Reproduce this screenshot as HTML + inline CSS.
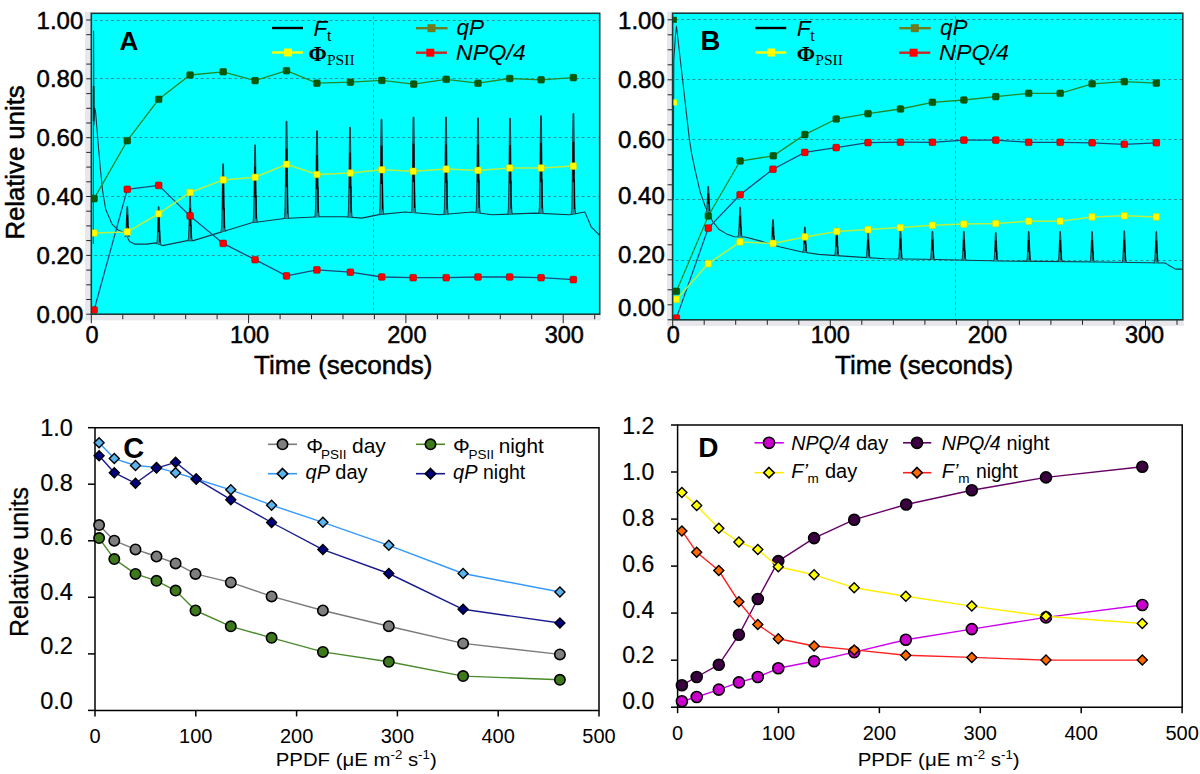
<!DOCTYPE html><html><head><meta charset="utf-8"><style>html,body{margin:0;padding:0;background:#fff;width:1200px;height:774px;overflow:hidden}svg{display:block}</style></head><body>
<svg width="1200" height="774" viewBox="0 0 1200 774">
<rect width="1200" height="774" fill="#fff"/>
<rect x="85" y="11.8" width="6.299999999999997" height="308.5" fill="#e8e8ec"/>
<rect x="85" y="314.2" width="515.7" height="6.100000000000023" fill="#e8e8ec"/>
<rect x="91.3" y="13.3" width="508.40000000000003" height="300.9" fill="#00ffff"/>
<line x1="94.3" y1="20.5" x2="599.7" y2="20.5" stroke="#2a9898" stroke-width="1" stroke-dasharray="3,2.6"/>
<line x1="94.3" y1="78.5" x2="599.7" y2="78.5" stroke="#2a9898" stroke-width="1" stroke-dasharray="3,2.6"/>
<line x1="94.3" y1="137.5" x2="599.7" y2="137.5" stroke="#2a9898" stroke-width="1" stroke-dasharray="3,2.6"/>
<line x1="94.3" y1="196.5" x2="599.7" y2="196.5" stroke="#2a9898" stroke-width="1" stroke-dasharray="3,2.6"/>
<line x1="94.3" y1="255.5" x2="599.7" y2="255.5" stroke="#2a9898" stroke-width="1" stroke-dasharray="3,2.6"/>
<line x1="373.5" y1="16.3" x2="373.5" y2="314.2" stroke="#2a9898" stroke-width="1" stroke-dasharray="3,2.6"/>
<line x1="86.3" y1="314.2" x2="91.3" y2="314.2" stroke="#222" stroke-width="1"/>
<line x1="86.3" y1="299.5" x2="91.3" y2="299.5" stroke="#222" stroke-width="1"/>
<line x1="86.3" y1="284.8" x2="91.3" y2="284.8" stroke="#222" stroke-width="1"/>
<line x1="86.3" y1="270.1" x2="91.3" y2="270.1" stroke="#222" stroke-width="1"/>
<line x1="86.3" y1="255.4" x2="91.3" y2="255.4" stroke="#222" stroke-width="1"/>
<line x1="86.3" y1="240.6" x2="91.3" y2="240.6" stroke="#222" stroke-width="1"/>
<line x1="86.3" y1="225.9" x2="91.3" y2="225.9" stroke="#222" stroke-width="1"/>
<line x1="86.3" y1="211.2" x2="91.3" y2="211.2" stroke="#222" stroke-width="1"/>
<line x1="86.3" y1="196.5" x2="91.3" y2="196.5" stroke="#222" stroke-width="1"/>
<line x1="86.3" y1="181.8" x2="91.3" y2="181.8" stroke="#222" stroke-width="1"/>
<line x1="86.3" y1="167.1" x2="91.3" y2="167.1" stroke="#222" stroke-width="1"/>
<line x1="86.3" y1="152.4" x2="91.3" y2="152.4" stroke="#222" stroke-width="1"/>
<line x1="86.3" y1="137.7" x2="91.3" y2="137.7" stroke="#222" stroke-width="1"/>
<line x1="86.3" y1="123.0" x2="91.3" y2="123.0" stroke="#222" stroke-width="1"/>
<line x1="86.3" y1="108.3" x2="91.3" y2="108.3" stroke="#222" stroke-width="1"/>
<line x1="86.3" y1="93.6" x2="91.3" y2="93.6" stroke="#222" stroke-width="1"/>
<line x1="86.3" y1="78.8" x2="91.3" y2="78.8" stroke="#222" stroke-width="1"/>
<line x1="86.3" y1="64.1" x2="91.3" y2="64.1" stroke="#222" stroke-width="1"/>
<line x1="86.3" y1="49.4" x2="91.3" y2="49.4" stroke="#222" stroke-width="1"/>
<line x1="86.3" y1="34.7" x2="91.3" y2="34.7" stroke="#222" stroke-width="1"/>
<line x1="86.3" y1="20.0" x2="91.3" y2="20.0" stroke="#222" stroke-width="1"/>
<line x1="91.3" y1="314.2" x2="91.3" y2="323.2" stroke="#222" stroke-width="1"/>
<line x1="122.8" y1="314.2" x2="122.8" y2="319.2" stroke="#222" stroke-width="1"/>
<line x1="154.2" y1="314.2" x2="154.2" y2="319.2" stroke="#222" stroke-width="1"/>
<line x1="185.7" y1="314.2" x2="185.7" y2="319.2" stroke="#222" stroke-width="1"/>
<line x1="217.1" y1="314.2" x2="217.1" y2="319.2" stroke="#222" stroke-width="1"/>
<line x1="248.6" y1="314.2" x2="248.6" y2="323.2" stroke="#222" stroke-width="1"/>
<line x1="280.1" y1="314.2" x2="280.1" y2="319.2" stroke="#222" stroke-width="1"/>
<line x1="311.5" y1="314.2" x2="311.5" y2="319.2" stroke="#222" stroke-width="1"/>
<line x1="343.0" y1="314.2" x2="343.0" y2="319.2" stroke="#222" stroke-width="1"/>
<line x1="374.4" y1="314.2" x2="374.4" y2="319.2" stroke="#222" stroke-width="1"/>
<line x1="405.9" y1="314.2" x2="405.9" y2="323.2" stroke="#222" stroke-width="1"/>
<line x1="437.4" y1="314.2" x2="437.4" y2="319.2" stroke="#222" stroke-width="1"/>
<line x1="468.8" y1="314.2" x2="468.8" y2="319.2" stroke="#222" stroke-width="1"/>
<line x1="500.3" y1="314.2" x2="500.3" y2="319.2" stroke="#222" stroke-width="1"/>
<line x1="531.7" y1="314.2" x2="531.7" y2="319.2" stroke="#222" stroke-width="1"/>
<line x1="563.2" y1="314.2" x2="563.2" y2="323.2" stroke="#222" stroke-width="1"/>
<line x1="594.7" y1="314.2" x2="594.7" y2="319.2" stroke="#222" stroke-width="1"/>
<clipPath id="clipA"><rect x="91.3" y="13.3" width="508.40000000000003" height="300.9"/></clipPath>
<g clip-path="url(#clipA)">
<polyline points="93.3,244.0 93.6,31.0 93.9,125.0 94.6,108.0 95.6,112.0 98.2,144.0 100.5,170.0 102.6,190.7 105.7,209.3 111.9,223.8 118.1,230.0 125.4,233.1 129.5,241.4 134.7,244.1 147.1,244.1 155.4,242.9 162.6,245.6 188.5,240.4 193.3,240.6 219.3,232.6 224.8,231.0 251.8,222.8 256.2,222.2 284.3,218.5 319.0,216.8 345.0,216.8 361.7,218.1 379.0,214.6 405.0,212.0 439.7,214.8 472.2,212.0 491.7,214.8 535.0,213.1 569.7,214.8 584.9,212.0 591.4,227.2 597.9,233.7 599.5,235.0" fill="none" stroke="#123a48" stroke-width="1.1" stroke-linejoin="round"/>
<line x1="93.6" y1="86" x2="93.6" y2="121" stroke="#000" stroke-width="1.6"/>
<path d="M124.7,236.9 C125.8,236.9 125.8,233.9 126.2,226.3 L127.0,206.5 L127.6,206.5 L128.4,226.3 C128.8,233.9 128.8,236.9 129.9,236.9" fill="#2a8a94" stroke="#0e3440" stroke-width="1"/><line x1="127.3" y1="215.0" x2="127.3" y2="227.2" stroke="#000" stroke-width="1.7"/><line x1="128.2" y1="226.3" x2="128.4" y2="235.4" stroke="#000" stroke-width="1.1"/>
<path d="M156.1,244.1 C157.2,244.1 157.2,240.4 157.6,231.0 L158.3,206.7 L159.0,206.7 L159.8,231.0 C160.2,240.4 160.2,244.1 161.3,244.1" fill="#2a8a94" stroke="#0e3440" stroke-width="1"/><line x1="158.7" y1="217.2" x2="158.7" y2="232.2" stroke="#000" stroke-width="1.7"/><line x1="159.6" y1="231.0" x2="159.8" y2="242.3" stroke="#000" stroke-width="1.1"/>
<path d="M187.5,240.5 C188.6,240.5 188.6,235.9 189.0,224.6 L189.8,195.2 L190.4,195.2 L191.2,224.6 C191.6,235.9 191.6,240.5 192.7,240.5" fill="#2a8a94" stroke="#0e3440" stroke-width="1"/><line x1="190.1" y1="207.9" x2="190.1" y2="226.0" stroke="#000" stroke-width="1.7"/><line x1="191.0" y1="224.6" x2="191.2" y2="238.2" stroke="#000" stroke-width="1.1"/>
<path d="M220.6,231.5 C221.7,231.5 221.7,224.7 222.1,207.8 L222.8,163.8 L223.5,163.8 L224.3,207.8 C224.7,224.7 224.7,231.5 225.8,231.5" fill="#2a8a94" stroke="#0e3440" stroke-width="1"/><line x1="223.2" y1="182.7" x2="223.2" y2="209.8" stroke="#000" stroke-width="1.7"/><line x1="224.1" y1="207.8" x2="224.3" y2="228.1" stroke="#000" stroke-width="1.1"/>
<path d="M252.5,222.3 C253.6,222.3 253.6,214.6 254.0,195.2 L254.8,144.9 L255.4,144.9 L256.2,195.2 C256.6,214.6 256.6,222.3 257.7,222.3" fill="#2a8a94" stroke="#0e3440" stroke-width="1"/><line x1="255.1" y1="166.6" x2="255.1" y2="197.6" stroke="#000" stroke-width="1.7"/><line x1="256.0" y1="195.2" x2="256.2" y2="218.5" stroke="#000" stroke-width="1.1"/>
<path d="M283.9,218.4 C285.0,218.4 285.0,208.7 285.4,184.4 L286.1,121.3 L286.9,121.3 L287.6,184.4 C288.0,208.7 288.0,218.4 289.1,218.4" fill="#2a8a94" stroke="#0e3440" stroke-width="1"/><line x1="286.5" y1="148.5" x2="286.5" y2="187.3" stroke="#000" stroke-width="1.7"/><line x1="287.4" y1="184.4" x2="287.6" y2="213.5" stroke="#000" stroke-width="1.1"/>
<path d="M314.4,216.9 C315.5,216.9 315.5,208.3 315.9,186.8 L316.6,130.8 L317.4,130.8 L318.1,186.8 C318.5,208.3 318.5,216.9 319.6,216.9" fill="#2a8a94" stroke="#0e3440" stroke-width="1"/><line x1="317.0" y1="154.9" x2="317.0" y2="189.3" stroke="#000" stroke-width="1.7"/><line x1="317.9" y1="186.8" x2="318.1" y2="212.6" stroke="#000" stroke-width="1.1"/>
<path d="M347.4,217.2 C348.5,217.2 348.5,208.2 348.9,185.7 L349.6,127.3 L350.4,127.3 L351.1,185.7 C351.5,208.2 351.5,217.2 352.6,217.2" fill="#2a8a94" stroke="#0e3440" stroke-width="1"/><line x1="350.0" y1="152.5" x2="350.0" y2="188.4" stroke="#000" stroke-width="1.7"/><line x1="350.9" y1="185.7" x2="351.1" y2="212.7" stroke="#000" stroke-width="1.1"/>
<path d="M378.9,214.3 C380.0,214.3 380.0,204.8 380.4,181.0 L381.1,119.2 L381.9,119.2 L382.6,181.0 C383.0,204.8 383.0,214.3 384.1,214.3" fill="#2a8a94" stroke="#0e3440" stroke-width="1"/><line x1="381.5" y1="145.8" x2="381.5" y2="183.9" stroke="#000" stroke-width="1.7"/><line x1="382.4" y1="181.0" x2="382.6" y2="209.6" stroke="#000" stroke-width="1.1"/>
<path d="M410.9,212.7 C412.0,212.7 412.0,203.1 412.4,179.2 L413.1,117.0 L413.9,117.0 L414.6,179.2 C415.0,203.1 415.0,212.7 416.1,212.7" fill="#2a8a94" stroke="#0e3440" stroke-width="1"/><line x1="413.5" y1="143.8" x2="413.5" y2="182.1" stroke="#000" stroke-width="1.7"/><line x1="414.4" y1="179.2" x2="414.6" y2="207.9" stroke="#000" stroke-width="1.1"/>
<path d="M443.4,214.3 C444.5,214.3 444.5,204.5 444.9,180.2 L445.6,117.0 L446.4,117.0 L447.1,180.2 C447.5,204.5 447.5,214.3 448.6,214.3" fill="#2a8a94" stroke="#0e3440" stroke-width="1"/><line x1="446.0" y1="144.2" x2="446.0" y2="183.1" stroke="#000" stroke-width="1.7"/><line x1="446.9" y1="180.2" x2="447.1" y2="209.4" stroke="#000" stroke-width="1.1"/>
<path d="M475.4,212.8 C476.5,212.8 476.5,203.3 476.9,179.6 L477.6,117.9 L478.4,117.9 L479.1,179.6 C479.5,203.3 479.5,212.8 480.6,212.8" fill="#2a8a94" stroke="#0e3440" stroke-width="1"/><line x1="478.0" y1="144.5" x2="478.0" y2="182.5" stroke="#000" stroke-width="1.7"/><line x1="478.9" y1="179.6" x2="479.1" y2="208.1" stroke="#000" stroke-width="1.1"/>
<path d="M507.4,214.1 C508.5,214.1 508.5,204.5 508.9,180.6 L509.6,118.3 L510.4,118.3 L511.1,180.6 C511.5,204.5 511.5,214.1 512.6,214.1" fill="#2a8a94" stroke="#0e3440" stroke-width="1"/><line x1="510.0" y1="145.1" x2="510.0" y2="183.4" stroke="#000" stroke-width="1.7"/><line x1="510.9" y1="180.6" x2="511.1" y2="209.3" stroke="#000" stroke-width="1.1"/>
<path d="M538.4,213.4 C539.5,213.4 539.5,203.6 539.9,179.2 L540.6,115.8 L541.4,115.8 L542.1,179.2 C542.5,203.6 542.5,213.4 543.6,213.4" fill="#2a8a94" stroke="#0e3440" stroke-width="1"/><line x1="541.0" y1="143.1" x2="541.0" y2="182.2" stroke="#000" stroke-width="1.7"/><line x1="541.9" y1="179.2" x2="542.1" y2="208.5" stroke="#000" stroke-width="1.1"/>
<path d="M570.8,214.1 C571.9,214.1 571.9,204.1 572.3,178.9 L573.0,113.6 L573.8,113.6 L574.5,178.9 C574.9,204.1 574.9,214.1 576.0,214.1" fill="#2a8a94" stroke="#0e3440" stroke-width="1"/><line x1="573.4" y1="141.7" x2="573.4" y2="182.0" stroke="#000" stroke-width="1.7"/><line x1="574.3" y1="178.9" x2="574.5" y2="209.1" stroke="#000" stroke-width="1.1"/>
<polyline points="94.1,198.6 127.3,140.7 158.7,99.3 190.1,75.0 223.2,71.8 255.1,80.6 286.5,70.7 316.9,83.2 350.4,82.2 381.8,80.4 413.7,84.1 446.2,79.3 478.0,83.2 509.7,78.5 541.1,79.8 573.4,77.6" fill="none" stroke="#228a2a" stroke-width="1.3"/>
<rect x="90.8" y="195.3" width="6.6" height="6.6" rx="1.2" fill="#0a5a0a" stroke="#0a4a0a" stroke-width="0.6"/>
<rect x="124.0" y="137.4" width="6.6" height="6.6" rx="1.2" fill="#0a5a0a" stroke="#0a4a0a" stroke-width="0.6"/>
<rect x="155.4" y="96.0" width="6.6" height="6.6" rx="1.2" fill="#0a5a0a" stroke="#0a4a0a" stroke-width="0.6"/>
<rect x="186.8" y="71.7" width="6.6" height="6.6" rx="1.2" fill="#0a5a0a" stroke="#0a4a0a" stroke-width="0.6"/>
<rect x="219.9" y="68.5" width="6.6" height="6.6" rx="1.2" fill="#0a5a0a" stroke="#0a4a0a" stroke-width="0.6"/>
<rect x="251.8" y="77.3" width="6.6" height="6.6" rx="1.2" fill="#0a5a0a" stroke="#0a4a0a" stroke-width="0.6"/>
<rect x="283.2" y="67.4" width="6.6" height="6.6" rx="1.2" fill="#0a5a0a" stroke="#0a4a0a" stroke-width="0.6"/>
<rect x="313.6" y="79.9" width="6.6" height="6.6" rx="1.2" fill="#0a5a0a" stroke="#0a4a0a" stroke-width="0.6"/>
<rect x="347.1" y="78.9" width="6.6" height="6.6" rx="1.2" fill="#0a5a0a" stroke="#0a4a0a" stroke-width="0.6"/>
<rect x="378.5" y="77.1" width="6.6" height="6.6" rx="1.2" fill="#0a5a0a" stroke="#0a4a0a" stroke-width="0.6"/>
<rect x="410.4" y="80.8" width="6.6" height="6.6" rx="1.2" fill="#0a5a0a" stroke="#0a4a0a" stroke-width="0.6"/>
<rect x="442.9" y="76.0" width="6.6" height="6.6" rx="1.2" fill="#0a5a0a" stroke="#0a4a0a" stroke-width="0.6"/>
<rect x="474.7" y="79.9" width="6.6" height="6.6" rx="1.2" fill="#0a5a0a" stroke="#0a4a0a" stroke-width="0.6"/>
<rect x="506.4" y="75.2" width="6.6" height="6.6" rx="1.2" fill="#0a5a0a" stroke="#0a4a0a" stroke-width="0.6"/>
<rect x="537.8" y="76.5" width="6.6" height="6.6" rx="1.2" fill="#0a5a0a" stroke="#0a4a0a" stroke-width="0.6"/>
<rect x="570.1" y="74.3" width="6.6" height="6.6" rx="1.2" fill="#0a5a0a" stroke="#0a4a0a" stroke-width="0.6"/>
<polyline points="94.1,310.0 127.3,189.3 158.7,185.4 190.1,215.9 223.2,243.4 255.1,259.7 286.5,275.9 316.9,269.9 350.4,272.2 381.8,277.0 413.2,277.7 446.2,277.7 478.0,277.0 509.7,277.0 541.1,277.7 573.4,279.6" fill="none" stroke="#1a4a7a" stroke-width="1.3"/>
<rect x="90.8" y="306.7" width="6.6" height="6.6" rx="1.2" fill="#ff0000" stroke="#a00000" stroke-width="0.6"/>
<rect x="124.0" y="186.0" width="6.6" height="6.6" rx="1.2" fill="#ff0000" stroke="#a00000" stroke-width="0.6"/>
<rect x="155.4" y="182.1" width="6.6" height="6.6" rx="1.2" fill="#ff0000" stroke="#a00000" stroke-width="0.6"/>
<rect x="186.8" y="212.6" width="6.6" height="6.6" rx="1.2" fill="#ff0000" stroke="#a00000" stroke-width="0.6"/>
<rect x="219.9" y="240.1" width="6.6" height="6.6" rx="1.2" fill="#ff0000" stroke="#a00000" stroke-width="0.6"/>
<rect x="251.8" y="256.4" width="6.6" height="6.6" rx="1.2" fill="#ff0000" stroke="#a00000" stroke-width="0.6"/>
<rect x="283.2" y="272.6" width="6.6" height="6.6" rx="1.2" fill="#ff0000" stroke="#a00000" stroke-width="0.6"/>
<rect x="313.6" y="266.6" width="6.6" height="6.6" rx="1.2" fill="#ff0000" stroke="#a00000" stroke-width="0.6"/>
<rect x="347.1" y="268.9" width="6.6" height="6.6" rx="1.2" fill="#ff0000" stroke="#a00000" stroke-width="0.6"/>
<rect x="378.5" y="273.7" width="6.6" height="6.6" rx="1.2" fill="#ff0000" stroke="#a00000" stroke-width="0.6"/>
<rect x="409.9" y="274.4" width="6.6" height="6.6" rx="1.2" fill="#ff0000" stroke="#a00000" stroke-width="0.6"/>
<rect x="442.9" y="274.4" width="6.6" height="6.6" rx="1.2" fill="#ff0000" stroke="#a00000" stroke-width="0.6"/>
<rect x="474.7" y="273.7" width="6.6" height="6.6" rx="1.2" fill="#ff0000" stroke="#a00000" stroke-width="0.6"/>
<rect x="506.4" y="273.7" width="6.6" height="6.6" rx="1.2" fill="#ff0000" stroke="#a00000" stroke-width="0.6"/>
<rect x="537.8" y="274.4" width="6.6" height="6.6" rx="1.2" fill="#ff0000" stroke="#a00000" stroke-width="0.6"/>
<rect x="570.1" y="276.3" width="6.6" height="6.6" rx="1.2" fill="#ff0000" stroke="#a00000" stroke-width="0.6"/>
<polyline points="94.1,233.0 127.3,231.9 158.7,213.7 190.1,192.5 223.2,179.9 255.1,177.3 286.5,164.3 316.9,174.5 350.4,173.0 381.8,169.8 413.2,171.3 446.2,169.1 478.0,170.4 509.7,168.0 541.1,168.0 573.4,166.1" fill="none" stroke="#b8f040" stroke-width="1.5"/>
<rect x="90.8" y="229.7" width="6.6" height="6.6" rx="1.2" fill="#ffff00" stroke="#d0d000" stroke-width="0.6"/>
<rect x="124.0" y="228.6" width="6.6" height="6.6" rx="1.2" fill="#ffff00" stroke="#d0d000" stroke-width="0.6"/>
<rect x="155.4" y="210.4" width="6.6" height="6.6" rx="1.2" fill="#ffff00" stroke="#d0d000" stroke-width="0.6"/>
<rect x="186.8" y="189.2" width="6.6" height="6.6" rx="1.2" fill="#ffff00" stroke="#d0d000" stroke-width="0.6"/>
<rect x="219.9" y="176.6" width="6.6" height="6.6" rx="1.2" fill="#ffff00" stroke="#d0d000" stroke-width="0.6"/>
<rect x="251.8" y="174.0" width="6.6" height="6.6" rx="1.2" fill="#ffff00" stroke="#d0d000" stroke-width="0.6"/>
<rect x="283.2" y="161.0" width="6.6" height="6.6" rx="1.2" fill="#ffff00" stroke="#d0d000" stroke-width="0.6"/>
<rect x="313.6" y="171.2" width="6.6" height="6.6" rx="1.2" fill="#ffff00" stroke="#d0d000" stroke-width="0.6"/>
<rect x="347.1" y="169.7" width="6.6" height="6.6" rx="1.2" fill="#ffff00" stroke="#d0d000" stroke-width="0.6"/>
<rect x="378.5" y="166.5" width="6.6" height="6.6" rx="1.2" fill="#ffff00" stroke="#d0d000" stroke-width="0.6"/>
<rect x="409.9" y="168.0" width="6.6" height="6.6" rx="1.2" fill="#ffff00" stroke="#d0d000" stroke-width="0.6"/>
<rect x="442.9" y="165.8" width="6.6" height="6.6" rx="1.2" fill="#ffff00" stroke="#d0d000" stroke-width="0.6"/>
<rect x="474.7" y="167.1" width="6.6" height="6.6" rx="1.2" fill="#ffff00" stroke="#d0d000" stroke-width="0.6"/>
<rect x="506.4" y="164.7" width="6.6" height="6.6" rx="1.2" fill="#ffff00" stroke="#d0d000" stroke-width="0.6"/>
<rect x="537.8" y="164.7" width="6.6" height="6.6" rx="1.2" fill="#ffff00" stroke="#d0d000" stroke-width="0.6"/>
<rect x="570.1" y="162.8" width="6.6" height="6.6" rx="1.2" fill="#ffff00" stroke="#d0d000" stroke-width="0.6"/>
</g>
<rect x="91.3" y="13.3" width="508.40000000000003" height="300.9" fill="none" stroke="#1c3c3c" stroke-width="1.6"/>
<rect x="667" y="11.7" width="5.600000000000023" height="314.3" fill="#e8e8ec"/>
<rect x="667" y="319.8" width="516.8" height="6.199999999999989" fill="#e8e8ec"/>
<rect x="672.6" y="13.2" width="510.19999999999993" height="306.6" fill="#00ffff"/>
<line x1="675.6" y1="19.5" x2="1182.8" y2="19.5" stroke="#2a9898" stroke-width="1" stroke-dasharray="3,2.6"/>
<line x1="675.6" y1="79.5" x2="1182.8" y2="79.5" stroke="#2a9898" stroke-width="1" stroke-dasharray="3,2.6"/>
<line x1="675.6" y1="139.5" x2="1182.8" y2="139.5" stroke="#2a9898" stroke-width="1" stroke-dasharray="3,2.6"/>
<line x1="675.6" y1="199.5" x2="1182.8" y2="199.5" stroke="#2a9898" stroke-width="1" stroke-dasharray="3,2.6"/>
<line x1="675.6" y1="260.5" x2="1182.8" y2="260.5" stroke="#2a9898" stroke-width="1" stroke-dasharray="3,2.6"/>
<line x1="955.5" y1="16.2" x2="955.5" y2="319.8" stroke="#2a9898" stroke-width="1" stroke-dasharray="3,2.6"/>
<line x1="667.6" y1="19.8" x2="672.6" y2="19.8" stroke="#222" stroke-width="1"/>
<line x1="667.6" y1="34.8" x2="672.6" y2="34.8" stroke="#222" stroke-width="1"/>
<line x1="667.6" y1="49.8" x2="672.6" y2="49.8" stroke="#222" stroke-width="1"/>
<line x1="667.6" y1="64.8" x2="672.6" y2="64.8" stroke="#222" stroke-width="1"/>
<line x1="667.6" y1="79.8" x2="672.6" y2="79.8" stroke="#222" stroke-width="1"/>
<line x1="667.6" y1="94.8" x2="672.6" y2="94.8" stroke="#222" stroke-width="1"/>
<line x1="667.6" y1="109.8" x2="672.6" y2="109.8" stroke="#222" stroke-width="1"/>
<line x1="667.6" y1="124.8" x2="672.6" y2="124.8" stroke="#222" stroke-width="1"/>
<line x1="667.6" y1="139.8" x2="672.6" y2="139.8" stroke="#222" stroke-width="1"/>
<line x1="667.6" y1="154.8" x2="672.6" y2="154.8" stroke="#222" stroke-width="1"/>
<line x1="667.6" y1="169.8" x2="672.6" y2="169.8" stroke="#222" stroke-width="1"/>
<line x1="667.6" y1="184.8" x2="672.6" y2="184.8" stroke="#222" stroke-width="1"/>
<line x1="667.6" y1="199.8" x2="672.6" y2="199.8" stroke="#222" stroke-width="1"/>
<line x1="667.6" y1="214.8" x2="672.6" y2="214.8" stroke="#222" stroke-width="1"/>
<line x1="667.6" y1="229.8" x2="672.6" y2="229.8" stroke="#222" stroke-width="1"/>
<line x1="667.6" y1="244.8" x2="672.6" y2="244.8" stroke="#222" stroke-width="1"/>
<line x1="667.6" y1="259.8" x2="672.6" y2="259.8" stroke="#222" stroke-width="1"/>
<line x1="667.6" y1="274.8" x2="672.6" y2="274.8" stroke="#222" stroke-width="1"/>
<line x1="667.6" y1="289.8" x2="672.6" y2="289.8" stroke="#222" stroke-width="1"/>
<line x1="667.6" y1="304.8" x2="672.6" y2="304.8" stroke="#222" stroke-width="1"/>
<line x1="667.6" y1="319.8" x2="672.6" y2="319.8" stroke="#222" stroke-width="1"/>
<line x1="672.7" y1="319.8" x2="672.7" y2="328.8" stroke="#222" stroke-width="1"/>
<line x1="704.2" y1="319.8" x2="704.2" y2="324.8" stroke="#222" stroke-width="1"/>
<line x1="735.7" y1="319.8" x2="735.7" y2="324.8" stroke="#222" stroke-width="1"/>
<line x1="767.3" y1="319.8" x2="767.3" y2="324.8" stroke="#222" stroke-width="1"/>
<line x1="798.8" y1="319.8" x2="798.8" y2="324.8" stroke="#222" stroke-width="1"/>
<line x1="830.3" y1="319.8" x2="830.3" y2="328.8" stroke="#222" stroke-width="1"/>
<line x1="861.8" y1="319.8" x2="861.8" y2="324.8" stroke="#222" stroke-width="1"/>
<line x1="893.3" y1="319.8" x2="893.3" y2="324.8" stroke="#222" stroke-width="1"/>
<line x1="924.9" y1="319.8" x2="924.9" y2="324.8" stroke="#222" stroke-width="1"/>
<line x1="956.4" y1="319.8" x2="956.4" y2="324.8" stroke="#222" stroke-width="1"/>
<line x1="987.9" y1="319.8" x2="987.9" y2="328.8" stroke="#222" stroke-width="1"/>
<line x1="1019.4" y1="319.8" x2="1019.4" y2="324.8" stroke="#222" stroke-width="1"/>
<line x1="1050.9" y1="319.8" x2="1050.9" y2="324.8" stroke="#222" stroke-width="1"/>
<line x1="1082.5" y1="319.8" x2="1082.5" y2="324.8" stroke="#222" stroke-width="1"/>
<line x1="1114.0" y1="319.8" x2="1114.0" y2="324.8" stroke="#222" stroke-width="1"/>
<line x1="1145.5" y1="319.8" x2="1145.5" y2="328.8" stroke="#222" stroke-width="1"/>
<line x1="1177.0" y1="319.8" x2="1177.0" y2="324.8" stroke="#222" stroke-width="1"/>
<clipPath id="clipB"><rect x="672.6" y="13.2" width="510.19999999999993" height="306.6"/></clipPath>
<g clip-path="url(#clipB)">
<polyline points="673.2,200.0 673.8,60.0 675.5,35.0 676.5,26.2 689.4,139.4 691.6,153.3 695.5,171.9 700.2,192.0 705.6,207.5 708.2,212.0 712.6,221.5 718.8,229.2 726.5,233.9 734.3,236.7 745.1,237.0 760.0,240.9 779.2,246.7 801.1,251.8 818.7,254.4 851.6,256.6 884.6,258.8 925.0,259.3 1000.0,261.0 1100.0,262.0 1165.0,263.0 1175.4,269.1 1183.0,269.1" fill="none" stroke="#123a48" stroke-width="1.1" stroke-linejoin="round"/>
<path d="M705.7,212.2 C706.8,212.2 706.8,209.6 707.2,203.2 L707.9,186.4 L708.6,186.4 L709.4,203.2 C709.8,209.6 709.8,212.2 710.9,212.2" fill="#2a8a94" stroke="#0e3440" stroke-width="1"/><line x1="708.3" y1="193.6" x2="708.3" y2="204.0" stroke="#000" stroke-width="1.7"/><line x1="709.2" y1="203.2" x2="709.4" y2="210.9" stroke="#000" stroke-width="1.1"/>
<path d="M737.5,236.9 C738.6,236.9 738.6,233.9 739.0,226.5 L739.8,207.2 L740.5,207.2 L741.2,226.5 C741.6,233.9 741.6,236.9 742.7,236.9" fill="#2a8a94" stroke="#0e3440" stroke-width="1"/><line x1="740.1" y1="215.5" x2="740.1" y2="227.4" stroke="#000" stroke-width="1.7"/><line x1="741.0" y1="226.5" x2="741.2" y2="235.4" stroke="#000" stroke-width="1.1"/>
<path d="M770.4,244.8 C771.5,244.8 771.5,242.3 771.9,236.0 L772.6,219.7 L773.4,219.7 L774.1,236.0 C774.5,242.3 774.5,244.8 775.6,244.8" fill="#2a8a94" stroke="#0e3440" stroke-width="1"/><line x1="773.0" y1="226.7" x2="773.0" y2="236.8" stroke="#000" stroke-width="1.7"/><line x1="773.9" y1="236.0" x2="774.1" y2="243.6" stroke="#000" stroke-width="1.1"/>
<path d="M802.3,252.4 C803.4,252.4 803.4,249.8 803.8,243.5 L804.5,227.0 L805.2,227.0 L806.0,243.5 C806.4,249.8 806.4,252.4 807.5,252.4" fill="#2a8a94" stroke="#0e3440" stroke-width="1"/><line x1="804.9" y1="234.1" x2="804.9" y2="244.2" stroke="#000" stroke-width="1.7"/><line x1="805.8" y1="243.5" x2="806.0" y2="251.1" stroke="#000" stroke-width="1.1"/>
<path d="M834.1,255.6 C835.2,255.6 835.2,252.8 835.6,245.9 L836.4,228.0 L837.1,228.0 L837.8,245.9 C838.2,252.8 838.2,255.6 839.3,255.6" fill="#2a8a94" stroke="#0e3440" stroke-width="1"/><line x1="836.7" y1="235.7" x2="836.7" y2="246.8" stroke="#000" stroke-width="1.7"/><line x1="837.6" y1="245.9" x2="837.8" y2="254.2" stroke="#000" stroke-width="1.1"/>
<path d="M865.5,257.7 C866.6,257.7 866.6,255.2 867.0,248.9 L867.8,232.5 L868.5,232.5 L869.2,248.9 C869.6,255.2 869.6,257.7 870.7,257.7" fill="#2a8a94" stroke="#0e3440" stroke-width="1"/><line x1="868.1" y1="239.6" x2="868.1" y2="249.6" stroke="#000" stroke-width="1.7"/><line x1="869.0" y1="248.9" x2="869.2" y2="256.4" stroke="#000" stroke-width="1.1"/>
<path d="M897.8,259.0 C898.9,259.0 898.9,256.1 899.3,249.0 L900.0,230.3 L900.8,230.3 L901.5,249.0 C901.9,256.1 901.9,259.0 903.0,259.0" fill="#2a8a94" stroke="#0e3440" stroke-width="1"/><line x1="900.4" y1="238.3" x2="900.4" y2="249.8" stroke="#000" stroke-width="1.7"/><line x1="901.3" y1="249.0" x2="901.5" y2="257.6" stroke="#000" stroke-width="1.1"/>
<path d="M929.8,259.5 C930.9,259.5 930.9,256.7 931.3,249.7 L932.0,231.6 L932.8,231.6 L933.5,249.7 C933.9,256.7 933.9,259.5 935.0,259.5" fill="#2a8a94" stroke="#0e3440" stroke-width="1"/><line x1="932.4" y1="239.4" x2="932.4" y2="250.6" stroke="#000" stroke-width="1.7"/><line x1="933.3" y1="249.7" x2="933.5" y2="258.1" stroke="#000" stroke-width="1.1"/>
<path d="M961.3,260.2 C962.4,260.2 962.4,257.3 962.8,250.2 L963.5,231.6 L964.2,231.6 L965.0,250.2 C965.4,257.3 965.4,260.2 966.5,260.2" fill="#2a8a94" stroke="#0e3440" stroke-width="1"/><line x1="963.9" y1="239.6" x2="963.9" y2="251.0" stroke="#000" stroke-width="1.7"/><line x1="964.8" y1="250.2" x2="965.0" y2="258.8" stroke="#000" stroke-width="1.1"/>
<path d="M993.2,260.9 C994.3,260.9 994.3,258.1 994.7,251.0 L995.4,232.5 L996.1,232.5 L996.9,251.0 C997.3,258.1 997.3,260.9 998.4,260.9" fill="#2a8a94" stroke="#0e3440" stroke-width="1"/><line x1="995.8" y1="240.5" x2="995.8" y2="251.8" stroke="#000" stroke-width="1.7"/><line x1="996.7" y1="251.0" x2="996.9" y2="259.5" stroke="#000" stroke-width="1.1"/>
<path d="M1026.1,261.3 C1027.2,261.3 1027.2,258.3 1027.6,250.9 L1028.4,231.6 L1029.0,231.6 L1029.8,250.9 C1030.2,258.3 1030.2,261.3 1031.3,261.3" fill="#2a8a94" stroke="#0e3440" stroke-width="1"/><line x1="1028.7" y1="239.9" x2="1028.7" y2="251.8" stroke="#000" stroke-width="1.7"/><line x1="1029.6" y1="250.9" x2="1029.8" y2="259.8" stroke="#000" stroke-width="1.1"/>
<path d="M1057.6,261.6 C1058.7,261.6 1058.7,258.6 1059.1,251.1 L1059.9,231.6 L1060.5,231.6 L1061.3,251.1 C1061.7,258.6 1061.7,261.6 1062.8,261.6" fill="#2a8a94" stroke="#0e3440" stroke-width="1"/><line x1="1060.2" y1="240.0" x2="1060.2" y2="252.0" stroke="#000" stroke-width="1.7"/><line x1="1061.1" y1="251.1" x2="1061.3" y2="260.1" stroke="#000" stroke-width="1.1"/>
<path d="M1089.5,261.9 C1090.6,261.9 1090.6,258.9 1091.0,251.3 L1091.8,231.6 L1092.4,231.6 L1093.2,251.3 C1093.6,258.9 1093.6,261.9 1094.7,261.9" fill="#2a8a94" stroke="#0e3440" stroke-width="1"/><line x1="1092.1" y1="240.1" x2="1092.1" y2="252.2" stroke="#000" stroke-width="1.7"/><line x1="1093.0" y1="251.3" x2="1093.2" y2="260.4" stroke="#000" stroke-width="1.1"/>
<path d="M1121.7,262.4 C1122.8,262.4 1122.8,259.2 1123.2,251.4 L1124.0,230.9 L1124.6,230.9 L1125.4,251.4 C1125.8,259.2 1125.8,262.4 1126.9,262.4" fill="#2a8a94" stroke="#0e3440" stroke-width="1"/><line x1="1124.3" y1="239.7" x2="1124.3" y2="252.3" stroke="#000" stroke-width="1.7"/><line x1="1125.2" y1="251.4" x2="1125.4" y2="260.8" stroke="#000" stroke-width="1.1"/>
<path d="M1153.7,262.9 C1154.8,262.9 1154.8,259.7 1155.2,251.9 L1156.0,231.6 L1156.6,231.6 L1157.4,251.9 C1157.8,259.7 1157.8,262.9 1158.9,262.9" fill="#2a8a94" stroke="#0e3440" stroke-width="1"/><line x1="1156.3" y1="240.4" x2="1156.3" y2="252.9" stroke="#000" stroke-width="1.7"/><line x1="1157.2" y1="251.9" x2="1157.4" y2="261.3" stroke="#000" stroke-width="1.1"/>
<polyline points="676.4,291.3 708.3,216.0 740.1,161.0 773.3,155.8 804.8,134.6 836.2,119.0 868.0,113.6 900.5,109.0 932.4,102.3 963.9,100.0 995.8,96.6 1028.7,93.3 1060.2,93.3 1092.1,83.8 1124.3,81.6 1156.3,83.1" fill="none" stroke="#228a2a" stroke-width="1.3"/>
<rect x="673.1" y="288.0" width="6.6" height="6.6" rx="1.2" fill="#0a5a0a" stroke="#0a4a0a" stroke-width="0.6"/>
<rect x="705.0" y="212.7" width="6.6" height="6.6" rx="1.2" fill="#0a5a0a" stroke="#0a4a0a" stroke-width="0.6"/>
<rect x="736.8" y="157.7" width="6.6" height="6.6" rx="1.2" fill="#0a5a0a" stroke="#0a4a0a" stroke-width="0.6"/>
<rect x="770.0" y="152.5" width="6.6" height="6.6" rx="1.2" fill="#0a5a0a" stroke="#0a4a0a" stroke-width="0.6"/>
<rect x="801.5" y="131.3" width="6.6" height="6.6" rx="1.2" fill="#0a5a0a" stroke="#0a4a0a" stroke-width="0.6"/>
<rect x="832.9" y="115.7" width="6.6" height="6.6" rx="1.2" fill="#0a5a0a" stroke="#0a4a0a" stroke-width="0.6"/>
<rect x="864.7" y="110.3" width="6.6" height="6.6" rx="1.2" fill="#0a5a0a" stroke="#0a4a0a" stroke-width="0.6"/>
<rect x="897.2" y="105.7" width="6.6" height="6.6" rx="1.2" fill="#0a5a0a" stroke="#0a4a0a" stroke-width="0.6"/>
<rect x="929.1" y="99.0" width="6.6" height="6.6" rx="1.2" fill="#0a5a0a" stroke="#0a4a0a" stroke-width="0.6"/>
<rect x="960.6" y="96.7" width="6.6" height="6.6" rx="1.2" fill="#0a5a0a" stroke="#0a4a0a" stroke-width="0.6"/>
<rect x="992.5" y="93.3" width="6.6" height="6.6" rx="1.2" fill="#0a5a0a" stroke="#0a4a0a" stroke-width="0.6"/>
<rect x="1025.4" y="90.0" width="6.6" height="6.6" rx="1.2" fill="#0a5a0a" stroke="#0a4a0a" stroke-width="0.6"/>
<rect x="1056.9" y="90.0" width="6.6" height="6.6" rx="1.2" fill="#0a5a0a" stroke="#0a4a0a" stroke-width="0.6"/>
<rect x="1088.8" y="80.5" width="6.6" height="6.6" rx="1.2" fill="#0a5a0a" stroke="#0a4a0a" stroke-width="0.6"/>
<rect x="1121.0" y="78.3" width="6.6" height="6.6" rx="1.2" fill="#0a5a0a" stroke="#0a4a0a" stroke-width="0.6"/>
<rect x="1153.0" y="79.8" width="6.6" height="6.6" rx="1.2" fill="#0a5a0a" stroke="#0a4a0a" stroke-width="0.6"/>
<polyline points="676.4,318.1 708.3,228.1 740.1,194.7 773.0,169.2 804.8,152.4 836.2,147.6 868.0,142.6 900.5,142.2 932.4,142.3 963.9,140.1 995.8,140.1 1028.7,142.3 1060.2,142.3 1092.1,142.8 1124.3,144.3 1156.3,142.8" fill="none" stroke="#1a4a7a" stroke-width="1.3"/>
<rect x="673.1" y="314.8" width="6.6" height="6.6" rx="1.2" fill="#ff0000" stroke="#a00000" stroke-width="0.6"/>
<rect x="705.0" y="224.8" width="6.6" height="6.6" rx="1.2" fill="#ff0000" stroke="#a00000" stroke-width="0.6"/>
<rect x="736.8" y="191.4" width="6.6" height="6.6" rx="1.2" fill="#ff0000" stroke="#a00000" stroke-width="0.6"/>
<rect x="769.7" y="165.9" width="6.6" height="6.6" rx="1.2" fill="#ff0000" stroke="#a00000" stroke-width="0.6"/>
<rect x="801.5" y="149.1" width="6.6" height="6.6" rx="1.2" fill="#ff0000" stroke="#a00000" stroke-width="0.6"/>
<rect x="832.9" y="144.3" width="6.6" height="6.6" rx="1.2" fill="#ff0000" stroke="#a00000" stroke-width="0.6"/>
<rect x="864.7" y="139.3" width="6.6" height="6.6" rx="1.2" fill="#ff0000" stroke="#a00000" stroke-width="0.6"/>
<rect x="897.2" y="138.9" width="6.6" height="6.6" rx="1.2" fill="#ff0000" stroke="#a00000" stroke-width="0.6"/>
<rect x="929.1" y="139.0" width="6.6" height="6.6" rx="1.2" fill="#ff0000" stroke="#a00000" stroke-width="0.6"/>
<rect x="960.6" y="136.8" width="6.6" height="6.6" rx="1.2" fill="#ff0000" stroke="#a00000" stroke-width="0.6"/>
<rect x="992.5" y="136.8" width="6.6" height="6.6" rx="1.2" fill="#ff0000" stroke="#a00000" stroke-width="0.6"/>
<rect x="1025.4" y="139.0" width="6.6" height="6.6" rx="1.2" fill="#ff0000" stroke="#a00000" stroke-width="0.6"/>
<rect x="1056.9" y="139.0" width="6.6" height="6.6" rx="1.2" fill="#ff0000" stroke="#a00000" stroke-width="0.6"/>
<rect x="1088.8" y="139.5" width="6.6" height="6.6" rx="1.2" fill="#ff0000" stroke="#a00000" stroke-width="0.6"/>
<rect x="1121.0" y="141.0" width="6.6" height="6.6" rx="1.2" fill="#ff0000" stroke="#a00000" stroke-width="0.6"/>
<rect x="1153.0" y="139.5" width="6.6" height="6.6" rx="1.2" fill="#ff0000" stroke="#a00000" stroke-width="0.6"/>
<polyline points="676.4,299.4 708.3,263.6 740.1,241.9 773.0,243.4 804.9,236.9 836.7,231.4 868.1,229.6 900.4,227.6 932.4,225.3 963.9,224.1 995.8,223.5 1028.7,221.2 1060.2,221.2 1092.1,216.9 1124.3,215.8 1156.3,216.9" fill="none" stroke="#b8f040" stroke-width="1.5"/>
<rect x="673.1" y="296.1" width="6.6" height="6.6" rx="1.2" fill="#ffff00" stroke="#d0d000" stroke-width="0.6"/>
<rect x="705.0" y="260.3" width="6.6" height="6.6" rx="1.2" fill="#ffff00" stroke="#d0d000" stroke-width="0.6"/>
<rect x="736.8" y="238.6" width="6.6" height="6.6" rx="1.2" fill="#ffff00" stroke="#d0d000" stroke-width="0.6"/>
<rect x="769.7" y="240.1" width="6.6" height="6.6" rx="1.2" fill="#ffff00" stroke="#d0d000" stroke-width="0.6"/>
<rect x="801.6" y="233.6" width="6.6" height="6.6" rx="1.2" fill="#ffff00" stroke="#d0d000" stroke-width="0.6"/>
<rect x="833.4" y="228.1" width="6.6" height="6.6" rx="1.2" fill="#ffff00" stroke="#d0d000" stroke-width="0.6"/>
<rect x="864.8" y="226.3" width="6.6" height="6.6" rx="1.2" fill="#ffff00" stroke="#d0d000" stroke-width="0.6"/>
<rect x="897.1" y="224.3" width="6.6" height="6.6" rx="1.2" fill="#ffff00" stroke="#d0d000" stroke-width="0.6"/>
<rect x="929.1" y="222.0" width="6.6" height="6.6" rx="1.2" fill="#ffff00" stroke="#d0d000" stroke-width="0.6"/>
<rect x="960.6" y="220.8" width="6.6" height="6.6" rx="1.2" fill="#ffff00" stroke="#d0d000" stroke-width="0.6"/>
<rect x="992.5" y="220.2" width="6.6" height="6.6" rx="1.2" fill="#ffff00" stroke="#d0d000" stroke-width="0.6"/>
<rect x="1025.4" y="217.9" width="6.6" height="6.6" rx="1.2" fill="#ffff00" stroke="#d0d000" stroke-width="0.6"/>
<rect x="1056.9" y="217.9" width="6.6" height="6.6" rx="1.2" fill="#ffff00" stroke="#d0d000" stroke-width="0.6"/>
<rect x="1088.8" y="213.6" width="6.6" height="6.6" rx="1.2" fill="#ffff00" stroke="#d0d000" stroke-width="0.6"/>
<rect x="1121.0" y="212.5" width="6.6" height="6.6" rx="1.2" fill="#ffff00" stroke="#d0d000" stroke-width="0.6"/>
<rect x="1153.0" y="213.6" width="6.6" height="6.6" rx="1.2" fill="#ffff00" stroke="#d0d000" stroke-width="0.6"/>
<rect x="670.9" y="16.8" width="6" height="6" fill="#0a5a0a" stroke="none" stroke-width="0"/>
<rect x="670.9" y="99.4" width="6" height="6" fill="#ffff00" stroke="none" stroke-width="0"/>
</g>
<rect x="672.6" y="13.2" width="510.19999999999993" height="306.6" fill="none" stroke="#1c3c3c" stroke-width="1.6"/>
<line x1="272" y1="28" x2="303" y2="28" stroke="#000" stroke-width="2.4"/>
<text x="313.5" y="35.5" font-family="'Liberation Sans', sans-serif" font-size="22.5" font-weight="normal" font-style="italic" text-anchor="start" fill="#000" >F</text>
<text x="327" y="41" font-family="'Liberation Serif', serif" font-size="16" font-weight="normal" font-style="normal" text-anchor="start" fill="#000" >t</text>
<line x1="272" y1="52.5" x2="303" y2="52.5" stroke="#ffff00" stroke-width="2.4"/>
<rect x="284.0" y="48.5" width="8" height="8" fill="#ffff00" stroke="none" stroke-width="0"/>
<text x="308.5" y="61" font-family="'Liberation Serif', serif" font-size="22" font-weight="bold" font-style="normal" text-anchor="start" fill="#000" >Φ</text>
<text x="327" y="65" font-family="'Liberation Serif', serif" font-size="15.5" font-weight="normal" font-style="normal" text-anchor="start" fill="#000" >PSII</text>
<line x1="416" y1="28.2" x2="447.5" y2="28.2" stroke="#6e7c1e" stroke-width="2.4"/>
<rect x="427.5" y="24.2" width="8" height="8" fill="#6e7c1e" stroke="none" stroke-width="0"/>
<text x="456.6" y="35.3" font-family="'Liberation Sans', sans-serif" font-size="22.5" font-weight="normal" font-style="italic" text-anchor="start" fill="#000" >qP</text>
<line x1="416" y1="52.7" x2="447" y2="52.7" stroke="#c82828" stroke-width="2.4"/>
<rect x="426.3" y="48.7" width="8" height="8" fill="#ff0000" stroke="none" stroke-width="0"/>
<text x="455.8" y="60.2" font-family="'Liberation Sans', sans-serif" font-size="22" font-weight="normal" font-style="italic" text-anchor="start" fill="#000" textLength="70" lengthAdjust="spacingAndGlyphs">NPQ/4</text>
<line x1="755.3" y1="28" x2="786.3" y2="28" stroke="#000" stroke-width="2.4"/>
<text x="796.8" y="35.5" font-family="'Liberation Sans', sans-serif" font-size="22.5" font-weight="normal" font-style="italic" text-anchor="start" fill="#000" >F</text>
<text x="810.3" y="41" font-family="'Liberation Serif', serif" font-size="16" font-weight="normal" font-style="normal" text-anchor="start" fill="#000" >t</text>
<line x1="755.3" y1="52.5" x2="786.3" y2="52.5" stroke="#ffff00" stroke-width="2.4"/>
<rect x="767.3" y="48.5" width="8" height="8" fill="#ffff00" stroke="none" stroke-width="0"/>
<text x="796.8" y="61" font-family="'Liberation Serif', serif" font-size="22" font-weight="bold" font-style="normal" text-anchor="start" fill="#000" >Φ</text>
<text x="815.3" y="65" font-family="'Liberation Serif', serif" font-size="15.5" font-weight="normal" font-style="normal" text-anchor="start" fill="#000" >PSII</text>
<line x1="899.3" y1="28.2" x2="930.8" y2="28.2" stroke="#6e7c1e" stroke-width="2.4"/>
<rect x="910.8" y="24.2" width="8" height="8" fill="#6e7c1e" stroke="none" stroke-width="0"/>
<text x="939.9000000000001" y="35.3" font-family="'Liberation Sans', sans-serif" font-size="22.5" font-weight="normal" font-style="italic" text-anchor="start" fill="#000" >qP</text>
<line x1="899.3" y1="52.7" x2="930.3" y2="52.7" stroke="#c82828" stroke-width="2.4"/>
<rect x="909.6" y="48.7" width="8" height="8" fill="#ff0000" stroke="none" stroke-width="0"/>
<text x="939.1" y="60.2" font-family="'Liberation Sans', sans-serif" font-size="22" font-weight="normal" font-style="italic" text-anchor="start" fill="#000" textLength="70" lengthAdjust="spacingAndGlyphs">NPQ/4</text>
<text x="119.6" y="50.4" font-family="'Liberation Sans', sans-serif" font-size="26" font-weight="bold" font-style="normal" text-anchor="start" fill="#000" >A</text>
<text x="700.6" y="50.3" font-family="'Liberation Sans', sans-serif" font-size="27.5" font-weight="bold" font-style="normal" text-anchor="start" fill="#000" >B</text>
<text x="83.3" y="28.6" font-family="'Liberation Sans', sans-serif" font-size="24" font-weight="normal" font-style="normal" text-anchor="end" fill="#000" stroke="#000" stroke-width="0.5">1.00</text>
<text x="83.3" y="87.4" font-family="'Liberation Sans', sans-serif" font-size="24" font-weight="normal" font-style="normal" text-anchor="end" fill="#000" stroke="#000" stroke-width="0.5">0.80</text>
<text x="83.3" y="146.3" font-family="'Liberation Sans', sans-serif" font-size="24" font-weight="normal" font-style="normal" text-anchor="end" fill="#000" stroke="#000" stroke-width="0.5">0.60</text>
<text x="83.3" y="205.1" font-family="'Liberation Sans', sans-serif" font-size="24" font-weight="normal" font-style="normal" text-anchor="end" fill="#000" stroke="#000" stroke-width="0.5">0.40</text>
<text x="83.3" y="264.0" font-family="'Liberation Sans', sans-serif" font-size="24" font-weight="normal" font-style="normal" text-anchor="end" fill="#000" stroke="#000" stroke-width="0.5">0.20</text>
<text x="83.3" y="322.8" font-family="'Liberation Sans', sans-serif" font-size="24" font-weight="normal" font-style="normal" text-anchor="end" fill="#000" stroke="#000" stroke-width="0.5">0.00</text>
<text x="92.1" y="343.3" font-family="'Liberation Sans', sans-serif" font-size="23.5" font-weight="normal" font-style="normal" text-anchor="middle" fill="#000" stroke="#000" stroke-width="0.5">0</text>
<text x="249.5" y="343.3" font-family="'Liberation Sans', sans-serif" font-size="23.5" font-weight="normal" font-style="normal" text-anchor="middle" fill="#000" stroke="#000" stroke-width="0.5">100</text>
<text x="406.9" y="343.3" font-family="'Liberation Sans', sans-serif" font-size="23.5" font-weight="normal" font-style="normal" text-anchor="middle" fill="#000" stroke="#000" stroke-width="0.5">200</text>
<text x="564.3" y="343.3" font-family="'Liberation Sans', sans-serif" font-size="23.5" font-weight="normal" font-style="normal" text-anchor="middle" fill="#000" stroke="#000" stroke-width="0.5">300</text>
<text x="664.8" y="29.4" font-family="'Liberation Sans', sans-serif" font-size="24" font-weight="normal" font-style="normal" text-anchor="end" fill="#000" stroke="#000" stroke-width="0.5">1.00</text>
<text x="664.8" y="88.4" font-family="'Liberation Sans', sans-serif" font-size="24" font-weight="normal" font-style="normal" text-anchor="end" fill="#000" stroke="#000" stroke-width="0.5">0.80</text>
<text x="664.8" y="147.6" font-family="'Liberation Sans', sans-serif" font-size="24" font-weight="normal" font-style="normal" text-anchor="end" fill="#000" stroke="#000" stroke-width="0.5">0.60</text>
<text x="664.8" y="204.2" font-family="'Liberation Sans', sans-serif" font-size="24" font-weight="normal" font-style="normal" text-anchor="end" fill="#000" stroke="#000" stroke-width="0.5">0.40</text>
<text x="664.8" y="263.2" font-family="'Liberation Sans', sans-serif" font-size="24" font-weight="normal" font-style="normal" text-anchor="end" fill="#000" stroke="#000" stroke-width="0.5">0.20</text>
<text x="664.8" y="316.2" font-family="'Liberation Sans', sans-serif" font-size="24" font-weight="normal" font-style="normal" text-anchor="end" fill="#000" stroke="#000" stroke-width="0.5">0.00</text>
<text x="673.3" y="343.3" font-family="'Liberation Sans', sans-serif" font-size="23.5" font-weight="normal" font-style="normal" text-anchor="middle" fill="#000" stroke="#000" stroke-width="0.5">0</text>
<text x="830.3" y="343.3" font-family="'Liberation Sans', sans-serif" font-size="23.5" font-weight="normal" font-style="normal" text-anchor="middle" fill="#000" stroke="#000" stroke-width="0.5">100</text>
<text x="987.4" y="343.3" font-family="'Liberation Sans', sans-serif" font-size="23.5" font-weight="normal" font-style="normal" text-anchor="middle" fill="#000" stroke="#000" stroke-width="0.5">200</text>
<text x="1144.5" y="343.3" font-family="'Liberation Sans', sans-serif" font-size="23.5" font-weight="normal" font-style="normal" text-anchor="middle" fill="#000" stroke="#000" stroke-width="0.5">300</text>
<text x="343.2" y="374.1" font-family="'Liberation Sans', sans-serif" font-size="26" font-weight="normal" font-style="normal" text-anchor="middle" fill="#000" stroke="#000" stroke-width="0.5">Time (seconds)</text>
<text x="924.1" y="373.9" font-family="'Liberation Sans', sans-serif" font-size="26" font-weight="normal" font-style="normal" text-anchor="middle" fill="#000" stroke="#000" stroke-width="0.5">Time (seconds)</text>
<text x="0" y="0" font-family="'Liberation Sans', sans-serif" font-size="25.7" font-weight="normal" font-style="normal" text-anchor="middle" fill="#000" stroke="#000" stroke-width="0.5" transform="translate(24.2,162.5) rotate(-90)">Relative units</text>
<path d="M95,427.7 H599 V710.4 H95 Z" fill="none" stroke="#000" stroke-width="1.5"/>
<line x1="88" y1="427.7" x2="95" y2="427.7" stroke="#000" stroke-width="1.5"/>
<line x1="88" y1="484.2" x2="95" y2="484.2" stroke="#000" stroke-width="1.5"/>
<line x1="88" y1="540.8" x2="95" y2="540.8" stroke="#000" stroke-width="1.5"/>
<line x1="88" y1="597.3" x2="95" y2="597.3" stroke="#000" stroke-width="1.5"/>
<line x1="88" y1="653.9" x2="95" y2="653.9" stroke="#000" stroke-width="1.5"/>
<line x1="88" y1="710.4" x2="95" y2="710.4" stroke="#000" stroke-width="1.5"/>
<line x1="95.0" y1="710.4" x2="95.0" y2="716.4" stroke="#000" stroke-width="1.5"/>
<line x1="195.8" y1="710.4" x2="195.8" y2="716.4" stroke="#000" stroke-width="1.5"/>
<line x1="296.6" y1="710.4" x2="296.6" y2="716.4" stroke="#000" stroke-width="1.5"/>
<line x1="397.4" y1="710.4" x2="397.4" y2="716.4" stroke="#000" stroke-width="1.5"/>
<line x1="498.2" y1="710.4" x2="498.2" y2="716.4" stroke="#000" stroke-width="1.5"/>
<line x1="599.0" y1="710.4" x2="599.0" y2="716.4" stroke="#000" stroke-width="1.5"/>
<polyline points="99.1,525.1 114.3,540.7 135.5,549.4 156.5,556.5 175.6,563.4 195.5,573.9 230.8,582.4 271.6,596.4 322.9,610.5 388.8,626.2 463.1,643.4 559.9,654.4" fill="none" stroke="#7a7a7a" stroke-width="1.4" stroke-linejoin="round"/>
<circle cx="99.1" cy="525.1" r="5.2" fill="#7f7f7f" stroke="#000" stroke-width="1.6"/>
<circle cx="114.3" cy="540.7" r="5.2" fill="#7f7f7f" stroke="#000" stroke-width="1.6"/>
<circle cx="135.5" cy="549.4" r="5.2" fill="#7f7f7f" stroke="#000" stroke-width="1.6"/>
<circle cx="156.5" cy="556.5" r="5.2" fill="#7f7f7f" stroke="#000" stroke-width="1.6"/>
<circle cx="175.6" cy="563.4" r="5.2" fill="#7f7f7f" stroke="#000" stroke-width="1.6"/>
<circle cx="195.5" cy="573.9" r="5.2" fill="#7f7f7f" stroke="#000" stroke-width="1.6"/>
<circle cx="230.8" cy="582.4" r="5.2" fill="#7f7f7f" stroke="#000" stroke-width="1.6"/>
<circle cx="271.6" cy="596.4" r="5.2" fill="#7f7f7f" stroke="#000" stroke-width="1.6"/>
<circle cx="322.9" cy="610.5" r="5.2" fill="#7f7f7f" stroke="#000" stroke-width="1.6"/>
<circle cx="388.8" cy="626.2" r="5.2" fill="#7f7f7f" stroke="#000" stroke-width="1.6"/>
<circle cx="463.1" cy="643.4" r="5.2" fill="#7f7f7f" stroke="#000" stroke-width="1.6"/>
<circle cx="559.9" cy="654.4" r="5.2" fill="#7f7f7f" stroke="#000" stroke-width="1.6"/>
<polyline points="99.1,538.1 114.3,559.1 135.5,573.9 156.5,580.8 175.6,590.6 195.5,610.5 230.8,626.3 271.6,637.8 322.9,651.9 388.8,661.8 463.1,676.1 559.9,679.8" fill="none" stroke="#4a8a2a" stroke-width="1.4" stroke-linejoin="round"/>
<circle cx="99.1" cy="538.1" r="5.2" fill="#3e7a1c" stroke="#000" stroke-width="1.6"/>
<circle cx="114.3" cy="559.1" r="5.2" fill="#3e7a1c" stroke="#000" stroke-width="1.6"/>
<circle cx="135.5" cy="573.9" r="5.2" fill="#3e7a1c" stroke="#000" stroke-width="1.6"/>
<circle cx="156.5" cy="580.8" r="5.2" fill="#3e7a1c" stroke="#000" stroke-width="1.6"/>
<circle cx="175.6" cy="590.6" r="5.2" fill="#3e7a1c" stroke="#000" stroke-width="1.6"/>
<circle cx="195.5" cy="610.5" r="5.2" fill="#3e7a1c" stroke="#000" stroke-width="1.6"/>
<circle cx="230.8" cy="626.3" r="5.2" fill="#3e7a1c" stroke="#000" stroke-width="1.6"/>
<circle cx="271.6" cy="637.8" r="5.2" fill="#3e7a1c" stroke="#000" stroke-width="1.6"/>
<circle cx="322.9" cy="651.9" r="5.2" fill="#3e7a1c" stroke="#000" stroke-width="1.6"/>
<circle cx="388.8" cy="661.8" r="5.2" fill="#3e7a1c" stroke="#000" stroke-width="1.6"/>
<circle cx="463.1" cy="676.1" r="5.2" fill="#3e7a1c" stroke="#000" stroke-width="1.6"/>
<circle cx="559.9" cy="679.8" r="5.2" fill="#3e7a1c" stroke="#000" stroke-width="1.6"/>
<polyline points="99.1,442.8 114.3,458.6 135.5,465.5 156.5,467.4 175.6,472.7 196.2,479.0 230.8,489.8 271.6,505.2 322.9,522.3 388.8,545.3 463.1,573.5 559.9,592.0" fill="none" stroke="#3399ff" stroke-width="1.4" stroke-linejoin="round"/>
<path d="M99.1,437.8 L104.1,442.8 L99.1,447.8 L94.1,442.8 Z" fill="#5ab4ee" stroke="#000" stroke-width="1.4"/>
<path d="M114.3,453.6 L119.3,458.6 L114.3,463.6 L109.3,458.6 Z" fill="#5ab4ee" stroke="#000" stroke-width="1.4"/>
<path d="M135.5,460.5 L140.5,465.5 L135.5,470.5 L130.5,465.5 Z" fill="#5ab4ee" stroke="#000" stroke-width="1.4"/>
<path d="M156.5,462.4 L161.5,467.4 L156.5,472.4 L151.5,467.4 Z" fill="#5ab4ee" stroke="#000" stroke-width="1.4"/>
<path d="M175.6,467.7 L180.6,472.7 L175.6,477.7 L170.6,472.7 Z" fill="#5ab4ee" stroke="#000" stroke-width="1.4"/>
<path d="M196.2,474.0 L201.2,479.0 L196.2,484.0 L191.2,479.0 Z" fill="#5ab4ee" stroke="#000" stroke-width="1.4"/>
<path d="M230.8,484.8 L235.8,489.8 L230.8,494.8 L225.8,489.8 Z" fill="#5ab4ee" stroke="#000" stroke-width="1.4"/>
<path d="M271.6,500.2 L276.6,505.2 L271.6,510.2 L266.6,505.2 Z" fill="#5ab4ee" stroke="#000" stroke-width="1.4"/>
<path d="M322.9,517.3 L327.9,522.3 L322.9,527.3 L317.9,522.3 Z" fill="#5ab4ee" stroke="#000" stroke-width="1.4"/>
<path d="M388.8,540.3 L393.8,545.3 L388.8,550.3 L383.8,545.3 Z" fill="#5ab4ee" stroke="#000" stroke-width="1.4"/>
<path d="M463.1,568.5 L468.1,573.5 L463.1,578.5 L458.1,573.5 Z" fill="#5ab4ee" stroke="#000" stroke-width="1.4"/>
<path d="M559.9,587.0 L564.9,592.0 L559.9,597.0 L554.9,592.0 Z" fill="#5ab4ee" stroke="#000" stroke-width="1.4"/>
<polyline points="99.1,455.8 114.3,472.7 135.5,483.3 156.5,468.1 175.6,462.3 196.2,478.9 230.8,499.7 271.6,522.5 322.9,549.6 388.8,573.5 463.1,609.3 559.9,623.0" fill="none" stroke="#1a1a90" stroke-width="1.4" stroke-linejoin="round"/>
<path d="M99.1,450.8 L104.1,455.8 L99.1,460.8 L94.1,455.8 Z" fill="#000080" stroke="#000" stroke-width="1.4"/>
<path d="M114.3,467.7 L119.3,472.7 L114.3,477.7 L109.3,472.7 Z" fill="#000080" stroke="#000" stroke-width="1.4"/>
<path d="M135.5,478.3 L140.5,483.3 L135.5,488.3 L130.5,483.3 Z" fill="#000080" stroke="#000" stroke-width="1.4"/>
<path d="M156.5,463.1 L161.5,468.1 L156.5,473.1 L151.5,468.1 Z" fill="#000080" stroke="#000" stroke-width="1.4"/>
<path d="M175.6,457.3 L180.6,462.3 L175.6,467.3 L170.6,462.3 Z" fill="#000080" stroke="#000" stroke-width="1.4"/>
<path d="M196.2,473.9 L201.2,478.9 L196.2,483.9 L191.2,478.9 Z" fill="#000080" stroke="#000" stroke-width="1.4"/>
<path d="M230.8,494.7 L235.8,499.7 L230.8,504.7 L225.8,499.7 Z" fill="#000080" stroke="#000" stroke-width="1.4"/>
<path d="M271.6,517.5 L276.6,522.5 L271.6,527.5 L266.6,522.5 Z" fill="#000080" stroke="#000" stroke-width="1.4"/>
<path d="M322.9,544.6 L327.9,549.6 L322.9,554.6 L317.9,549.6 Z" fill="#000080" stroke="#000" stroke-width="1.4"/>
<path d="M388.8,568.5 L393.8,573.5 L388.8,578.5 L383.8,573.5 Z" fill="#000080" stroke="#000" stroke-width="1.4"/>
<path d="M463.1,604.3 L468.1,609.3 L463.1,614.3 L458.1,609.3 Z" fill="#000080" stroke="#000" stroke-width="1.4"/>
<path d="M559.9,618.0 L564.9,623.0 L559.9,628.0 L554.9,623.0 Z" fill="#000080" stroke="#000" stroke-width="1.4"/>
<line x1="268" y1="444.3" x2="297" y2="444.3" stroke="#7a7a7a" stroke-width="1.6"/>
<circle cx="282.5" cy="444.3" r="5.2" fill="#7f7f7f" stroke="#000" stroke-width="1.6"/>
<text x="306.3" y="453" font-family="'Liberation Sans', sans-serif" font-size="21" font-weight="normal" font-style="normal" text-anchor="start" fill="#000" >Φ</text>
<text x="321" y="458.5" font-family="'Liberation Sans', sans-serif" font-size="13.5" font-weight="normal" font-style="normal" text-anchor="start" fill="#000" >PSII</text>
<text x="352" y="453" font-family="'Liberation Sans', sans-serif" font-size="21" font-weight="normal" font-style="normal" text-anchor="start" fill="#000" >day</text>
<line x1="268" y1="473.7" x2="297" y2="473.7" stroke="#3399ff" stroke-width="1.6"/>
<path d="M282.5,468.5 L287.7,473.7 L282.5,478.9 L277.3,473.7 Z" fill="#5ab4ee" stroke="#000" stroke-width="1.6"/>
<text x="305.6" y="478.8" font-family="'Liberation Sans', sans-serif" font-size="20" font-weight="normal" font-style="italic" text-anchor="start" fill="#000" >qP</text>
<text x="335.3" y="478.8" font-family="'Liberation Sans', sans-serif" font-size="20" font-weight="normal" font-style="normal" text-anchor="start" fill="#000" >day</text>
<line x1="416" y1="444.3" x2="445" y2="444.3" stroke="#4a8a2a" stroke-width="1.6"/>
<circle cx="430.5" cy="444.3" r="5.2" fill="#3e7a1c" stroke="#000" stroke-width="1.6"/>
<text x="453.1" y="453" font-family="'Liberation Sans', sans-serif" font-size="21" font-weight="normal" font-style="normal" text-anchor="start" fill="#000" >Φ</text>
<text x="468.5" y="458.5" font-family="'Liberation Sans', sans-serif" font-size="13.5" font-weight="normal" font-style="normal" text-anchor="start" fill="#000" >PSII</text>
<text x="498.7" y="453" font-family="'Liberation Sans', sans-serif" font-size="21" font-weight="normal" font-style="normal" text-anchor="start" fill="#000" textLength="45" lengthAdjust="spacingAndGlyphs">night</text>
<line x1="416" y1="473.7" x2="445" y2="473.7" stroke="#1a1a90" stroke-width="1.6"/>
<path d="M430.5,468.5 L435.7,473.7 L430.5,478.9 L425.3,473.7 Z" fill="#000080" stroke="#000" stroke-width="1.6"/>
<text x="453.1" y="478.8" font-family="'Liberation Sans', sans-serif" font-size="20" font-weight="normal" font-style="italic" text-anchor="start" fill="#000" >qP</text>
<text x="483.1" y="478.8" font-family="'Liberation Sans', sans-serif" font-size="20" font-weight="normal" font-style="normal" text-anchor="start" fill="#000" textLength="42" lengthAdjust="spacingAndGlyphs">night</text>
<text x="123.2" y="458" font-family="'Liberation Sans', sans-serif" font-size="29" font-weight="bold" font-style="normal" text-anchor="start" fill="#000" >C</text>
<text x="72.8" y="435.8" font-family="'Liberation Sans', sans-serif" font-size="23.5" font-weight="normal" font-style="normal" text-anchor="end" fill="#000" stroke="#000" stroke-width="0.2">1.0</text>
<text x="72.8" y="490.5" font-family="'Liberation Sans', sans-serif" font-size="23.5" font-weight="normal" font-style="normal" text-anchor="end" fill="#000" stroke="#000" stroke-width="0.2">0.8</text>
<text x="72.8" y="545.1" font-family="'Liberation Sans', sans-serif" font-size="23.5" font-weight="normal" font-style="normal" text-anchor="end" fill="#000" stroke="#000" stroke-width="0.2">0.6</text>
<text x="72.8" y="599.8" font-family="'Liberation Sans', sans-serif" font-size="23.5" font-weight="normal" font-style="normal" text-anchor="end" fill="#000" stroke="#000" stroke-width="0.2">0.4</text>
<text x="72.8" y="654.4" font-family="'Liberation Sans', sans-serif" font-size="23.5" font-weight="normal" font-style="normal" text-anchor="end" fill="#000" stroke="#000" stroke-width="0.2">0.2</text>
<text x="72.8" y="709.1" font-family="'Liberation Sans', sans-serif" font-size="23.5" font-weight="normal" font-style="normal" text-anchor="end" fill="#000" stroke="#000" stroke-width="0.2">0.0</text>
<text x="95.0" y="743" font-family="'Liberation Sans', sans-serif" font-size="20" font-weight="normal" font-style="normal" text-anchor="middle" fill="#000" >0</text>
<text x="195.8" y="743" font-family="'Liberation Sans', sans-serif" font-size="20" font-weight="normal" font-style="normal" text-anchor="middle" fill="#000" >100</text>
<text x="296.6" y="743" font-family="'Liberation Sans', sans-serif" font-size="20" font-weight="normal" font-style="normal" text-anchor="middle" fill="#000" >200</text>
<text x="397.4" y="743" font-family="'Liberation Sans', sans-serif" font-size="20" font-weight="normal" font-style="normal" text-anchor="middle" fill="#000" >300</text>
<text x="498.2" y="743" font-family="'Liberation Sans', sans-serif" font-size="20" font-weight="normal" font-style="normal" text-anchor="middle" fill="#000" >400</text>
<text x="599.0" y="743" font-family="'Liberation Sans', sans-serif" font-size="20" font-weight="normal" font-style="normal" text-anchor="middle" fill="#000" >500</text>
<text x="356.2" y="766.3" font-family="'Liberation Sans', sans-serif" font-size="18.5" font-weight="normal" font-style="normal" text-anchor="middle" fill="#000" textLength="161" lengthAdjust="spacingAndGlyphs">PPDF (μE m<tspan dy="-7" font-size="12">-2</tspan><tspan dy="7"> s</tspan><tspan dy="-7" font-size="12">-1</tspan><tspan dy="7">)</tspan></text>
<text x="0" y="0" font-family="'Liberation Sans', sans-serif" font-size="25" font-weight="normal" font-style="normal" text-anchor="middle" fill="#000" stroke="#000" stroke-width="0.3" transform="translate(27.8,562) rotate(-90)">Relative units</text>
<path d="M677.6,425.0 H1182.2 V707.2 H677.6 Z" fill="none" stroke="#000" stroke-width="1.5"/>
<line x1="671" y1="425.0" x2="677.6" y2="425.0" stroke="#000" stroke-width="1.5"/>
<line x1="671" y1="472.0" x2="677.6" y2="472.0" stroke="#000" stroke-width="1.5"/>
<line x1="671" y1="519.1" x2="677.6" y2="519.1" stroke="#000" stroke-width="1.5"/>
<line x1="671" y1="566.1" x2="677.6" y2="566.1" stroke="#000" stroke-width="1.5"/>
<line x1="671" y1="613.1" x2="677.6" y2="613.1" stroke="#000" stroke-width="1.5"/>
<line x1="671" y1="660.2" x2="677.6" y2="660.2" stroke="#000" stroke-width="1.5"/>
<line x1="671" y1="707.2" x2="677.6" y2="707.2" stroke="#000" stroke-width="1.5"/>
<line x1="677.6" y1="707.2" x2="677.6" y2="713.2" stroke="#000" stroke-width="1.5"/>
<line x1="778.5" y1="707.2" x2="778.5" y2="713.2" stroke="#000" stroke-width="1.5"/>
<line x1="879.4" y1="707.2" x2="879.4" y2="713.2" stroke="#000" stroke-width="1.5"/>
<line x1="980.3" y1="707.2" x2="980.3" y2="713.2" stroke="#000" stroke-width="1.5"/>
<line x1="1081.2" y1="707.2" x2="1081.2" y2="713.2" stroke="#000" stroke-width="1.5"/>
<line x1="1182.1" y1="707.2" x2="1182.1" y2="713.2" stroke="#000" stroke-width="1.5"/>
<polyline points="681.9,701.3 696.7,697.0 718.8,689.6 738.9,682.4 757.8,677.0 778.3,668.3 814.1,661.2 854.2,652.1 905.8,639.7 971.8,629.1 1046.0,617.4 1142.3,605.0" fill="none" stroke="#cc00ee" stroke-width="1.4" stroke-linejoin="round"/>
<circle cx="681.9" cy="701.3" r="5.5" fill="#cc00cc" stroke="#000" stroke-width="1.6"/>
<circle cx="696.7" cy="697.0" r="5.5" fill="#cc00cc" stroke="#000" stroke-width="1.6"/>
<circle cx="718.8" cy="689.6" r="5.5" fill="#cc00cc" stroke="#000" stroke-width="1.6"/>
<circle cx="738.9" cy="682.4" r="5.5" fill="#cc00cc" stroke="#000" stroke-width="1.6"/>
<circle cx="757.8" cy="677.0" r="5.5" fill="#cc00cc" stroke="#000" stroke-width="1.6"/>
<circle cx="778.3" cy="668.3" r="5.5" fill="#cc00cc" stroke="#000" stroke-width="1.6"/>
<circle cx="814.1" cy="661.2" r="5.5" fill="#cc00cc" stroke="#000" stroke-width="1.6"/>
<circle cx="854.2" cy="652.1" r="5.5" fill="#cc00cc" stroke="#000" stroke-width="1.6"/>
<circle cx="905.8" cy="639.7" r="5.5" fill="#cc00cc" stroke="#000" stroke-width="1.6"/>
<circle cx="971.8" cy="629.1" r="5.5" fill="#cc00cc" stroke="#000" stroke-width="1.6"/>
<circle cx="1046.0" cy="617.4" r="5.5" fill="#cc00cc" stroke="#000" stroke-width="1.6"/>
<circle cx="1142.3" cy="605.0" r="5.5" fill="#cc00cc" stroke="#000" stroke-width="1.6"/>
<polyline points="681.9,685.2 696.7,677.0 718.8,664.7 738.9,634.8 757.8,599.0 778.3,561.1 814.1,538.1 854.2,519.7 906.2,504.5 971.8,490.2 1046.0,477.4 1142.3,466.8" fill="none" stroke="#660066" stroke-width="1.4" stroke-linejoin="round"/>
<circle cx="681.9" cy="685.2" r="5.5" fill="#3a0040" stroke="#000" stroke-width="1.6"/>
<circle cx="696.7" cy="677.0" r="5.5" fill="#3a0040" stroke="#000" stroke-width="1.6"/>
<circle cx="718.8" cy="664.7" r="5.5" fill="#3a0040" stroke="#000" stroke-width="1.6"/>
<circle cx="738.9" cy="634.8" r="5.5" fill="#3a0040" stroke="#000" stroke-width="1.6"/>
<circle cx="757.8" cy="599.0" r="5.5" fill="#3a0040" stroke="#000" stroke-width="1.6"/>
<circle cx="778.3" cy="561.1" r="5.5" fill="#3a0040" stroke="#000" stroke-width="1.6"/>
<circle cx="814.1" cy="538.1" r="5.5" fill="#3a0040" stroke="#000" stroke-width="1.6"/>
<circle cx="854.2" cy="519.7" r="5.5" fill="#3a0040" stroke="#000" stroke-width="1.6"/>
<circle cx="906.2" cy="504.5" r="5.5" fill="#3a0040" stroke="#000" stroke-width="1.6"/>
<circle cx="971.8" cy="490.2" r="5.5" fill="#3a0040" stroke="#000" stroke-width="1.6"/>
<circle cx="1046.0" cy="477.4" r="5.5" fill="#3a0040" stroke="#000" stroke-width="1.6"/>
<circle cx="1142.3" cy="466.8" r="5.5" fill="#3a0040" stroke="#000" stroke-width="1.6"/>
<polyline points="681.9,492.6 696.7,505.6 718.8,528.3 738.9,542.0 757.8,549.6 778.3,566.7 814.1,574.8 854.2,587.7 905.8,596.2 971.8,606.1 1046.0,616.3 1142.3,623.5" fill="none" stroke="#ffee00" stroke-width="1.4" stroke-linejoin="round"/>
<path d="M681.9,487.6 L686.9,492.6 L681.9,497.6 L676.9,492.6 Z" fill="#ffff00" stroke="#000" stroke-width="1.4"/>
<path d="M696.7,500.6 L701.7,505.6 L696.7,510.6 L691.7,505.6 Z" fill="#ffff00" stroke="#000" stroke-width="1.4"/>
<path d="M718.8,523.3 L723.8,528.3 L718.8,533.3 L713.8,528.3 Z" fill="#ffff00" stroke="#000" stroke-width="1.4"/>
<path d="M738.9,537.0 L743.9,542.0 L738.9,547.0 L733.9,542.0 Z" fill="#ffff00" stroke="#000" stroke-width="1.4"/>
<path d="M757.8,544.6 L762.8,549.6 L757.8,554.6 L752.8,549.6 Z" fill="#ffff00" stroke="#000" stroke-width="1.4"/>
<path d="M778.3,561.7 L783.3,566.7 L778.3,571.7 L773.3,566.7 Z" fill="#ffff00" stroke="#000" stroke-width="1.4"/>
<path d="M814.1,569.8 L819.1,574.8 L814.1,579.8 L809.1,574.8 Z" fill="#ffff00" stroke="#000" stroke-width="1.4"/>
<path d="M854.2,582.7 L859.2,587.7 L854.2,592.7 L849.2,587.7 Z" fill="#ffff00" stroke="#000" stroke-width="1.4"/>
<path d="M905.8,591.2 L910.8,596.2 L905.8,601.2 L900.8,596.2 Z" fill="#ffff00" stroke="#000" stroke-width="1.4"/>
<path d="M971.8,601.1 L976.8,606.1 L971.8,611.1 L966.8,606.1 Z" fill="#ffff00" stroke="#000" stroke-width="1.4"/>
<path d="M1046.0,611.3 L1051.0,616.3 L1046.0,621.3 L1041.0,616.3 Z" fill="#ffff00" stroke="#000" stroke-width="1.4"/>
<path d="M1142.3,618.5 L1147.3,623.5 L1142.3,628.5 L1137.3,623.5 Z" fill="#ffff00" stroke="#000" stroke-width="1.4"/>
<polyline points="681.9,530.9 696.7,552.2 718.8,570.5 738.9,601.8 757.8,624.6 778.3,638.7 814.1,646.0 854.2,649.9 905.8,655.3 971.8,657.4 1046.0,660.1 1142.3,660.1" fill="none" stroke="#ff2020" stroke-width="1.4" stroke-linejoin="round"/>
<path d="M681.9,525.9 L686.9,530.9 L681.9,535.9 L676.9,530.9 Z" fill="#ff6a00" stroke="#000" stroke-width="1.4"/>
<path d="M696.7,547.2 L701.7,552.2 L696.7,557.2 L691.7,552.2 Z" fill="#ff6a00" stroke="#000" stroke-width="1.4"/>
<path d="M718.8,565.5 L723.8,570.5 L718.8,575.5 L713.8,570.5 Z" fill="#ff6a00" stroke="#000" stroke-width="1.4"/>
<path d="M738.9,596.8 L743.9,601.8 L738.9,606.8 L733.9,601.8 Z" fill="#ff6a00" stroke="#000" stroke-width="1.4"/>
<path d="M757.8,619.6 L762.8,624.6 L757.8,629.6 L752.8,624.6 Z" fill="#ff6a00" stroke="#000" stroke-width="1.4"/>
<path d="M778.3,633.7 L783.3,638.7 L778.3,643.7 L773.3,638.7 Z" fill="#ff6a00" stroke="#000" stroke-width="1.4"/>
<path d="M814.1,641.0 L819.1,646.0 L814.1,651.0 L809.1,646.0 Z" fill="#ff6a00" stroke="#000" stroke-width="1.4"/>
<path d="M854.2,644.9 L859.2,649.9 L854.2,654.9 L849.2,649.9 Z" fill="#ff6a00" stroke="#000" stroke-width="1.4"/>
<path d="M905.8,650.3 L910.8,655.3 L905.8,660.3 L900.8,655.3 Z" fill="#ff6a00" stroke="#000" stroke-width="1.4"/>
<path d="M971.8,652.4 L976.8,657.4 L971.8,662.4 L966.8,657.4 Z" fill="#ff6a00" stroke="#000" stroke-width="1.4"/>
<path d="M1046.0,655.1 L1051.0,660.1 L1046.0,665.1 L1041.0,660.1 Z" fill="#ff6a00" stroke="#000" stroke-width="1.4"/>
<path d="M1142.3,655.1 L1147.3,660.1 L1142.3,665.1 L1137.3,660.1 Z" fill="#ff6a00" stroke="#000" stroke-width="1.4"/>
<line x1="754.5" y1="442.8" x2="783.8" y2="442.8" stroke="#cc00ee" stroke-width="1.6"/>
<circle cx="769.0" cy="442.8" r="5.6" fill="#cc00cc" stroke="#000" stroke-width="1.6"/>
<text x="791.2" y="450" font-family="'Liberation Sans', sans-serif" font-size="20" font-weight="normal" font-style="italic" text-anchor="start" fill="#000" textLength="59" lengthAdjust="spacingAndGlyphs">NPQ/4</text>
<text x="856" y="450" font-family="'Liberation Sans', sans-serif" font-size="20" font-weight="normal" font-style="normal" text-anchor="start" fill="#000" >day</text>
<line x1="754.5" y1="472.7" x2="783.8" y2="472.7" stroke="#ffee00" stroke-width="1.6"/>
<path d="M769.0,467.5 L774.2,472.7 L769.0,477.9 L763.8,472.7 Z" fill="#ffff00" stroke="#000" stroke-width="1.6"/>
<text x="791.2" y="478" font-family="'Liberation Sans', sans-serif" font-size="20" font-weight="normal" font-style="italic" text-anchor="start" fill="#000" >F’</text>
<text x="807.5" y="483.2" font-family="'Liberation Sans', sans-serif" font-size="13.5" font-weight="normal" font-style="normal" text-anchor="start" fill="#000" >m</text>
<text x="825" y="478" font-family="'Liberation Sans', sans-serif" font-size="20" font-weight="normal" font-style="normal" text-anchor="start" fill="#000" >day</text>
<line x1="903" y1="442.8" x2="931.3" y2="442.8" stroke="#660066" stroke-width="1.6"/>
<circle cx="917.0" cy="442.8" r="5.6" fill="#3a0040" stroke="#000" stroke-width="1.6"/>
<text x="941.8" y="450" font-family="'Liberation Sans', sans-serif" font-size="20" font-weight="normal" font-style="italic" text-anchor="start" fill="#000" textLength="59" lengthAdjust="spacingAndGlyphs">NPQ/4</text>
<text x="1006.5" y="450" font-family="'Liberation Sans', sans-serif" font-size="20" font-weight="normal" font-style="normal" text-anchor="start" fill="#000" textLength="43" lengthAdjust="spacingAndGlyphs">night</text>
<line x1="903" y1="472.7" x2="931.3" y2="472.7" stroke="#ff2020" stroke-width="1.6"/>
<path d="M917.0,467.5 L922.2,472.7 L917.0,477.9 L911.8,472.7 Z" fill="#ff6a00" stroke="#000" stroke-width="1.6"/>
<text x="941.8" y="478" font-family="'Liberation Sans', sans-serif" font-size="20" font-weight="normal" font-style="italic" text-anchor="start" fill="#000" >F’</text>
<text x="958.3" y="483.2" font-family="'Liberation Sans', sans-serif" font-size="13.5" font-weight="normal" font-style="normal" text-anchor="start" fill="#000" >m</text>
<text x="976" y="478" font-family="'Liberation Sans', sans-serif" font-size="20" font-weight="normal" font-style="normal" text-anchor="start" fill="#000" textLength="42" lengthAdjust="spacingAndGlyphs">night</text>
<text x="698.2" y="457" font-family="'Liberation Sans', sans-serif" font-size="28" font-weight="bold" font-style="normal" text-anchor="start" fill="#000" >D</text>
<text x="654.2" y="434.4" font-family="'Liberation Sans', sans-serif" font-size="23" font-weight="normal" font-style="normal" text-anchor="end" fill="#000" stroke="#000" stroke-width="0.2">1.2</text>
<text x="654.2" y="480.2" font-family="'Liberation Sans', sans-serif" font-size="23" font-weight="normal" font-style="normal" text-anchor="end" fill="#000" stroke="#000" stroke-width="0.2">1.0</text>
<text x="654.2" y="526.0" font-family="'Liberation Sans', sans-serif" font-size="23" font-weight="normal" font-style="normal" text-anchor="end" fill="#000" stroke="#000" stroke-width="0.2">0.8</text>
<text x="654.2" y="571.8" font-family="'Liberation Sans', sans-serif" font-size="23" font-weight="normal" font-style="normal" text-anchor="end" fill="#000" stroke="#000" stroke-width="0.2">0.6</text>
<text x="654.2" y="617.6" font-family="'Liberation Sans', sans-serif" font-size="23" font-weight="normal" font-style="normal" text-anchor="end" fill="#000" stroke="#000" stroke-width="0.2">0.4</text>
<text x="654.2" y="663.4" font-family="'Liberation Sans', sans-serif" font-size="23" font-weight="normal" font-style="normal" text-anchor="end" fill="#000" stroke="#000" stroke-width="0.2">0.2</text>
<text x="654.2" y="709.2" font-family="'Liberation Sans', sans-serif" font-size="23" font-weight="normal" font-style="normal" text-anchor="end" fill="#000" stroke="#000" stroke-width="0.2">0.0</text>
<text x="677.6" y="739.5" font-family="'Liberation Sans', sans-serif" font-size="20" font-weight="normal" font-style="normal" text-anchor="middle" fill="#000" >0</text>
<text x="778.5" y="739.5" font-family="'Liberation Sans', sans-serif" font-size="20" font-weight="normal" font-style="normal" text-anchor="middle" fill="#000" >100</text>
<text x="879.4" y="739.5" font-family="'Liberation Sans', sans-serif" font-size="20" font-weight="normal" font-style="normal" text-anchor="middle" fill="#000" >200</text>
<text x="980.3" y="739.5" font-family="'Liberation Sans', sans-serif" font-size="20" font-weight="normal" font-style="normal" text-anchor="middle" fill="#000" >300</text>
<text x="1081.2" y="739.5" font-family="'Liberation Sans', sans-serif" font-size="20" font-weight="normal" font-style="normal" text-anchor="middle" fill="#000" >400</text>
<text x="1182.1" y="739.5" font-family="'Liberation Sans', sans-serif" font-size="20" font-weight="normal" font-style="normal" text-anchor="middle" fill="#000" >500</text>
<text x="938.7" y="766.3" font-family="'Liberation Sans', sans-serif" font-size="18.5" font-weight="normal" font-style="normal" text-anchor="middle" fill="#000" textLength="162" lengthAdjust="spacingAndGlyphs">PPDF (μE m<tspan dy="-7" font-size="12">-2</tspan><tspan dy="7"> s</tspan><tspan dy="-7" font-size="12">-1</tspan><tspan dy="7">)</tspan></text>
</svg></body></html>
